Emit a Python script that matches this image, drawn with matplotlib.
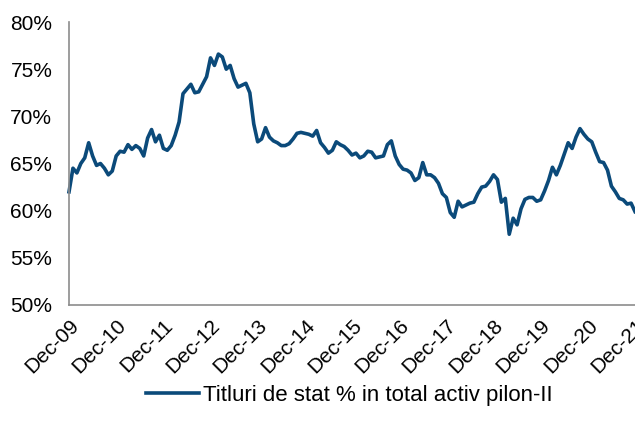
import matplotlib.pyplot as plt
from matplotlib.ticker import FuncFormatter

plt.rcParams['font.family'] = ['Liberation Sans', 'DejaVu Sans']

# monthly share, Dec-09 .. Dec-21
share = [
    62.0, 64.5, 64.0, 65.0, 65.6, 67.2, 65.8, 64.8, 65.0, 64.5, 63.8, 64.2,
    65.8, 66.3, 66.2, 67.0, 66.5, 66.9, 66.6, 65.8, 67.7, 68.6, 67.3, 68.0,
    66.6, 66.4, 66.9, 68.0, 69.4, 72.4, 72.9, 73.4, 72.5, 72.6, 73.4, 74.2,
    76.2, 75.4, 76.6, 76.3, 75.0, 75.4, 74.0, 73.1, 73.3, 73.5, 72.5, 69.2,
    67.3, 67.6, 68.8, 67.8, 67.4, 67.2, 66.9, 66.9, 67.1, 67.6, 68.2, 68.3,
    68.2, 68.1, 67.9, 68.5, 67.2, 66.7, 66.1, 66.4, 67.3, 67.0, 66.8, 66.4,
    65.9, 66.1, 65.6, 65.8, 66.3, 66.2, 65.6, 65.7, 65.8, 67.0, 67.4, 65.8,
    64.9, 64.4, 64.3, 64.0, 63.2, 63.5, 65.1, 63.8, 63.8, 63.5, 62.9, 61.8,
    61.4, 59.8, 59.3, 61.0, 60.4, 60.6, 60.8, 60.9, 61.8, 62.5, 62.6, 63.1,
    63.8, 63.3, 60.9, 61.3, 57.5, 59.2, 58.5, 60.2, 61.2, 61.4, 61.4, 61.0,
    61.15, 62.1, 63.2, 64.6, 63.8, 64.8, 66.0, 67.2, 66.6, 67.8, 68.7, 68.1,
    67.6, 67.3, 66.2, 65.2, 65.1, 64.3, 62.6, 62.0, 61.3, 61.15, 60.7, 60.8,
    59.9,
]
months = list(range(len(share)))
year_labels = ['Dec-09', 'Dec-10', 'Dec-11', 'Dec-12', 'Dec-13', 'Dec-14', 'Dec-15',
               'Dec-16', 'Dec-17', 'Dec-18', 'Dec-19', 'Dec-20', 'Dec-21']
y_ticks = [50, 55, 60, 65, 70, 75, 80]

fig = plt.figure(figsize=(6.35, 4.3), dpi=100)
ax = fig.add_axes([0.1087, 0.2907, 0.8913, 0.6581])

ax.plot(months, share, color='#0B4A7A', lw=2.6, solid_joinstyle='round',
        label='Titluri de stat % in total activ pilon-II', clip_on=False)

ax.set_xlim(0, 144)
ax.set_ylim(50, 80)
ax.set_yticks(y_ticks)
ax.yaxis.set_major_formatter(FuncFormatter(lambda v, p: f'{v:.0f}%'))
ax.set_xticks([12 * i for i in range(len(year_labels))])
ax.set_xticklabels(year_labels, rotation=45, ha='right', rotation_mode='anchor')
ax.tick_params(length=0, labelsize=15)
ax.tick_params(axis='y', pad=12)
ax.tick_params(axis='x', pad=8)

for s in ['top', 'right']:
    ax.spines[s].set_visible(False)
for s in ['left', 'bottom']:
    ax.spines[s].set_color('#8C8C8C')
    ax.spines[s].set_linewidth(1.2)

fig.legend(loc='lower center', bbox_to_anchor=(0.55, 0.01), frameon=False,
           fontsize=16, handlelength=2.4, handletextpad=0.2)

fig.savefig('out.png', dpi=100)
